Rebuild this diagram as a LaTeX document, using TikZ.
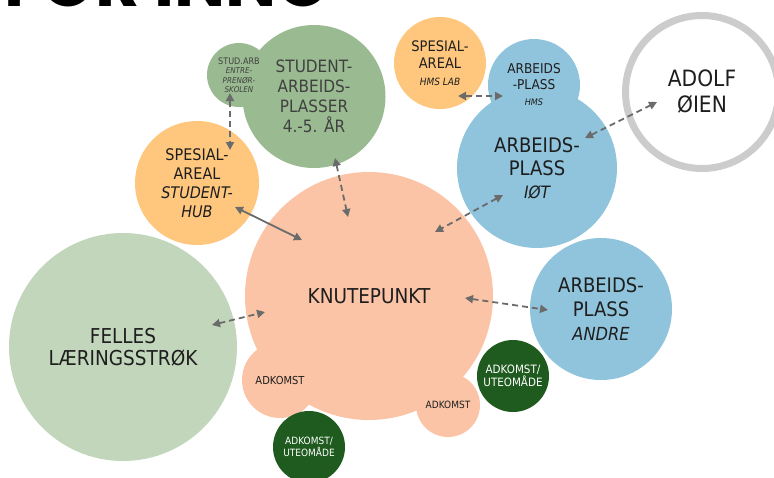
\documentclass[tikz,border=0pt]{standalone}
\usepackage{fontspec}
\setmainfont{DejaVu Sans}[FakeStretch=0.9]
\newfontfamily\headfont{Poppins}
\usetikzlibrary{arrows.meta}

\definecolor{knutecol}{HTML}{FCC4A6}
\definecolor{fellescol}{HTML}{C2D6BC}
\definecolor{studcol}{HTML}{9ABB91}
\definecolor{spesialcol}{HTML}{FFC77E}
\definecolor{arbcol}{HTML}{90C4DC}
\definecolor{utecol}{HTML}{1F5A1E}
\definecolor{ringcol}{HTML}{CCCCCC}
\definecolor{linkcol}{HTML}{6B6B6B}
\definecolor{textcol}{HTML}{1E1E1E}

\begin{document}
\begin{tikzpicture}
    [x=1pt, y=-1pt,
     Bubble/.style={circle, inner sep=0pt, align=center, text=textcol},
     Link/.style={draw=linkcol, line width=1.8pt, dash pattern=on 6pt off 4pt,
        {Triangle[length=8pt,width=8pt]}-{Triangle[length=8pt,width=8pt]}},
     Solid/.style={Link, solid}]
    \useasboundingbox (0,0) rectangle (774,477);
    % heading, cut by the top edge
    \node[anchor=base east, inner sep=0pt, font=\headfont\bfseries\fontsize{68}{68}\selectfont] (title) at (330,6) {FOR INNO};
    % bubbles
    \node[Bubble, fill=fellescol, minimum size=228pt, font=\fontsize{20.5}{22}\selectfont] (felles) at (123,347) {FELLES\\LÆRINGSSTRØK};
    \node[Bubble, fill=knutecol, minimum size=248pt, font=\fontsize{20.5}{22}\selectfont] (knute) at (369,296) {KNUTEPUNKT};
    \node[Bubble, fill=knutecol, minimum size=76pt, font=\fontsize{11}{13}\selectfont] (adk.l) at (280,380) {ADKOMST};
    \node[Bubble, fill=knutecol, minimum size=64pt, font=\fontsize{10}{12}\selectfont] (adk.r) at (448,405) {ADKOMST};
    \node[Bubble, fill=utecol, text=white, minimum size=72pt, font=\fontsize{10}{12}\selectfont] (ute.b) at (309,447) {ADKOMST/\\UTEOMÅDE};
    \node[Bubble, fill=utecol, text=white, minimum size=72pt, font=\fontsize{11.5}{11.5}\selectfont] (ute.r) at (513,376) {ADKOMST/\\UTEOMÅDE};
    \node[Bubble, fill=spesialcol, minimum size=124pt, font=\fontsize{16}{19}\selectfont] (hub) at (197,183) {SPESIAL-\\AREAL\\\textit{STUDENT-}\\\textit{HUB}};
    \node[Bubble, fill=studcol, text=textcol!85, minimum size=143pt, font=\fontsize{17}{20}\selectfont] (studplass) at (314,96.5) {STUDENT-\\ARBEIDS-\\PLASSER\\4.-5. ÅR};
    \node[Bubble, fill=studcol, text=textcol!85, minimum size=64pt, font=\fontsize{8}{9.5}\selectfont] (studarb) at (239,75) {\fontsize{9}{10}\selectfont STUD.ARB\\\itshape ENTRE-\\\itshape PRENØR-\\\itshape SKOLEN};
    \node[Bubble, fill=spesialcol, minimum size=92pt, font=\fontsize{14.5}{17}\selectfont] (hmslab) at (440,63) {SPESIAL-\\AREAL\\{\fontsize{10}{12}\selectfont\itshape HMS LAB}};
    \node[Bubble, fill=arbcol, minimum size=160pt, font=\fontsize{20}{23}\selectfont] (iot) at (537,168) {ARBEIDS-\\PLASS\\{\fontsize{17}{21}\selectfont\itshape IØT}};
    \node[Bubble, fill=arbcol, minimum size=92pt, font=\fontsize{13.5}{16}\selectfont] (hms) at (534,85) {ARBEIDS\\-PLASS\\{\fontsize{9}{13}\selectfont\itshape HMS}};
    \node[Bubble, fill=arbcol, minimum size=142pt, font=\fontsize{20}{24}\selectfont] (andre) at (601,309) {ARBEIDS-\\PLASS\\{\fontsize{18}{22}\selectfont\itshape ANDRE}};
    \node[Bubble, draw=ringcol, line width=7pt, fill=white, minimum size=153pt, font=\fontsize{22.5}{26}\selectfont] (adolf) at (702,92) {ADOLF\\ØIEN};
    % links
    \draw[Link] ([shift={(-9,18)}]studarb.center) -- ([shift={(33,-33)}]hub.center);
    \draw[Solid] ([shift={(38,24)}]hub.center) -- ([shift={(-67,-56)}]knute.center);
    \draw[Link] ([shift={(21,61.5)}]studplass.center) -- ([shift={(-21,-79)}]knute.center);
    \draw[Link] ([shift={(-34,27)}]iot.center) -- ([shift={(66,-64)}]knute.center);
    \draw[Link] ([shift={(96,2)}]knute.center) -- ([shift={(-53,1)}]andre.center);
    \draw[Link] ([shift={(89,-22)}]felles.center) -- ([shift={(-104,16)}]knute.center);
    \draw[Link] ([shift={(18,33)}]hmslab.center) -- ([shift={(-31,11)}]hms.center);
    \draw[Link] ([shift={(48,-30)}]iot.center) -- ([shift={(-45,10)}]adolf.center);
\end{tikzpicture}
\end{document}
